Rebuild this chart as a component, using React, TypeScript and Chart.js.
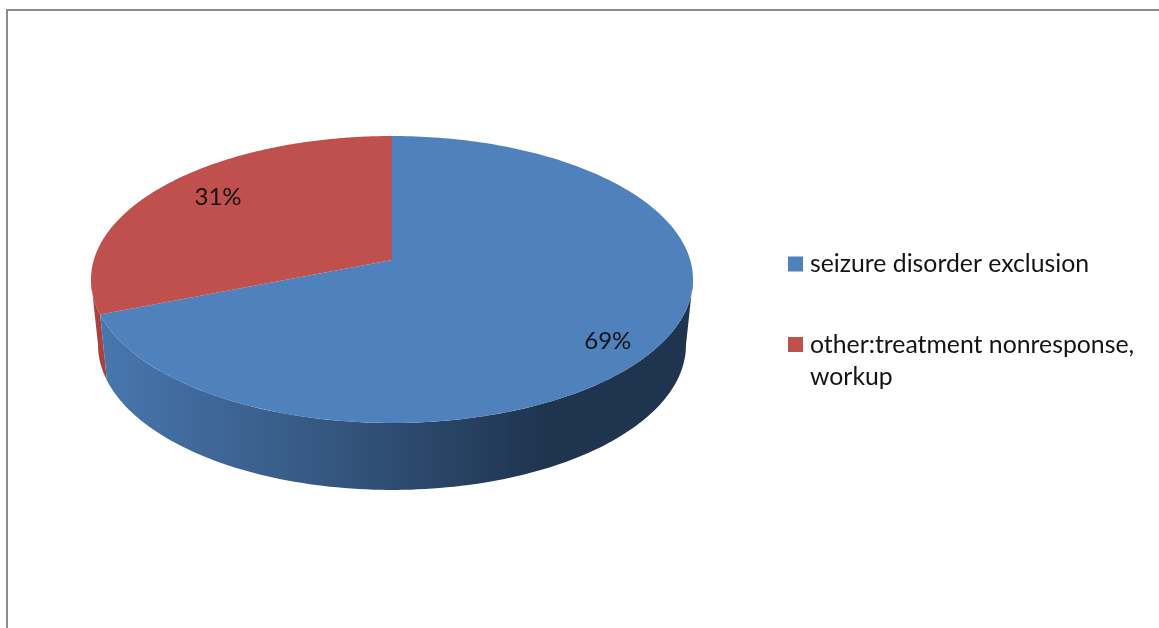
import React, { useEffect, useRef } from "react";
import { Chart, registerables } from "chart.js";

Chart.register(...registerables);

const categories = ["seizure disorder exclusion", ["other:treatment nonresponse,", "workup"]];
const shares = [69, 31];
const valueLabels = ["69%", "31%"];
const sliceColors = ["#4F81BD", "#C0504D"];

const FONT = '24px Lato, "Open Sans", sans-serif';
const LEGEND_FONT = '24.8px Lato, "Open Sans", sans-serif';
const TEXT = "#141414";

// projected pie: a tilted disc seen in perspective
const PERSPECTIVE = -0.1359;
const TILT_TOP = { ax: 0.9907, ay: 0.4679, apexShift: -41 };
const TILT_BASE = { ax: 0.9676, ay: 0.4726, apexShift: 24.3 };

function project(el: any, t: any, angle: number, f = 1) {
  const u = Math.cos(angle) * f;
  const v = Math.sin(angle) * f;
  const w = 1 + PERSPECTIVE * v;
  return {
    x: el.x + (t.ax * el.outerRadius * u) / w,
    y: el.y + t.apexShift + (t.ay * el.outerRadius * v) / w,
  };
}

// Angle at which the disc's silhouette is widest on the right / left.
const SIDE_V = -PERSPECTIVE;
const RIGHT_EXTREME = Math.asin(SIDE_V);
const LEFT_EXTREME = Math.PI - Math.asin(SIDE_V);

function sidePath(ctx: CanvasRenderingContext2D, el: any, a0: number, a1: number) {
  const N = 120;
  ctx.beginPath();
  for (let i = 0; i <= N; i++) {
    const p = project(el, TILT_TOP, a0 + ((a1 - a0) * i) / N);
    i === 0 ? ctx.moveTo(p.x, p.y) : ctx.lineTo(p.x, p.y);
  }
  for (let i = N; i >= 0; i--) {
    const p = project(el, TILT_BASE, a0 + ((a1 - a0) * i) / N);
    ctx.lineTo(p.x, p.y);
  }
  ctx.closePath();
}

const pie3d = {
  id: "pie3d",
  beforeDatasetsDraw(chart: any) {
    const { ctx } = chart;
    const arcs = chart.getDatasetMeta(0).data;
    const [blue, red] = arcs;
    ctx.save();

    // outer wall of the red slice, visible at the far left
    const redEnd = Math.min(red.endAngle, LEFT_EXTREME);
    sidePath(ctx, red, red.startAngle, redEnd);
    ctx.fillStyle = "#A8423F";
    ctx.fill();

    // outer wall of the blue slice
    const g = ctx.createLinearGradient(100, 0, 545, 0);
    g.addColorStop(0, "#4876AE");
    g.addColorStop(0.45, "#375B86");
    g.addColorStop(1, "#1F344F");
    sidePath(ctx, blue, RIGHT_EXTREME, blue.endAngle);
    ctx.fillStyle = g;
    ctx.fill();

    // top faces
    arcs.forEach((el: any, i: number) => {
      const N = 240;
      ctx.beginPath();
      const apex = project(el, TILT_TOP, 0, 0);
      ctx.moveTo(apex.x, apex.y);
      for (let k = 0; k <= N; k++) {
        const p = project(el, TILT_TOP, el.startAngle + ((el.endAngle - el.startAngle) * k) / N);
        ctx.lineTo(p.x, p.y);
      }
      ctx.closePath();
      ctx.fillStyle = sliceColors[i];
      ctx.fill();
    });
    ctx.restore();
    return false;
  },
  afterDraw(chart: any) {
    const { ctx } = chart;
    const arcs = chart.getDatasetMeta(0).data;
    ctx.save();

    // chart frame
    ctx.strokeStyle = "#8C8C8C";
    ctx.lineWidth = 2;
    ctx.beginPath();
    ctx.moveTo(7, 628);
    ctx.lineTo(7, 10);
    ctx.lineTo(1159, 10);
    ctx.stroke();

    // value labels
    ctx.font = FONT;
    ctx.fillStyle = TEXT;
    ctx.textAlign = "center";
    ctx.textBaseline = "alphabetic";
    const labelAt = [
      { f: 0.82, dy: 12, dx: 0 },
      { f: 0.75, dy: -7, dx: 1 },
    ];
    arcs.forEach((el: any, i: number) => {
      const mid = (el.startAngle + el.endAngle) / 2;
      const p = project(el, TILT_TOP, mid, labelAt[i].f);
      ctx.fillText(valueLabels[i], p.x + labelAt[i].dx, p.y + labelAt[i].dy + 8);
    });

    // legend
    ctx.font = LEGEND_FONT;
    ctx.textAlign = "left";
    const rows = [
      { box: 256.5, base: 272 },
      { box: 337, base: 353 },
    ];
    chart.data.labels.forEach((label: any, i: number) => {
      ctx.fillStyle = sliceColors[i];
      ctx.fillRect(788, rows[i].box, 15, 15);
      ctx.fillStyle = TEXT;
      const lines = Array.isArray(label) ? label : [label];
      lines.forEach((line: string, k: number) => ctx.fillText(line, 810, rows[i].base + k * 32));
    });
    ctx.restore();
  },
};

export default function App() {
  const ref = useRef<HTMLCanvasElement>(null);
  useEffect(() => {
    const chart = new Chart(ref.current!, {
      type: "pie",
      data: {
        labels: categories as any,
        datasets: [{ data: shares, backgroundColor: sliceColors, borderWidth: 0, hoverBorderWidth: 0, hoverOffset: 0 }],
      },
      options: {
        responsive: false,
        animation: false,
        layout: { padding: { left: 91, right: 466, top: 0, bottom: 26 } },
        plugins: { legend: { display: false }, tooltip: { enabled: false } },
      },
      plugins: [pie3d],
    } as any);
    return () => chart.destroy();
  }, []);
  return (
    <div style={{ position: "absolute", left: 0, top: 0, width: 1159, height: 628, background: "#fff" }}>
      <canvas ref={ref} width={1159} height={628} style={{ display: "block" }} />
    </div>
  );
}
